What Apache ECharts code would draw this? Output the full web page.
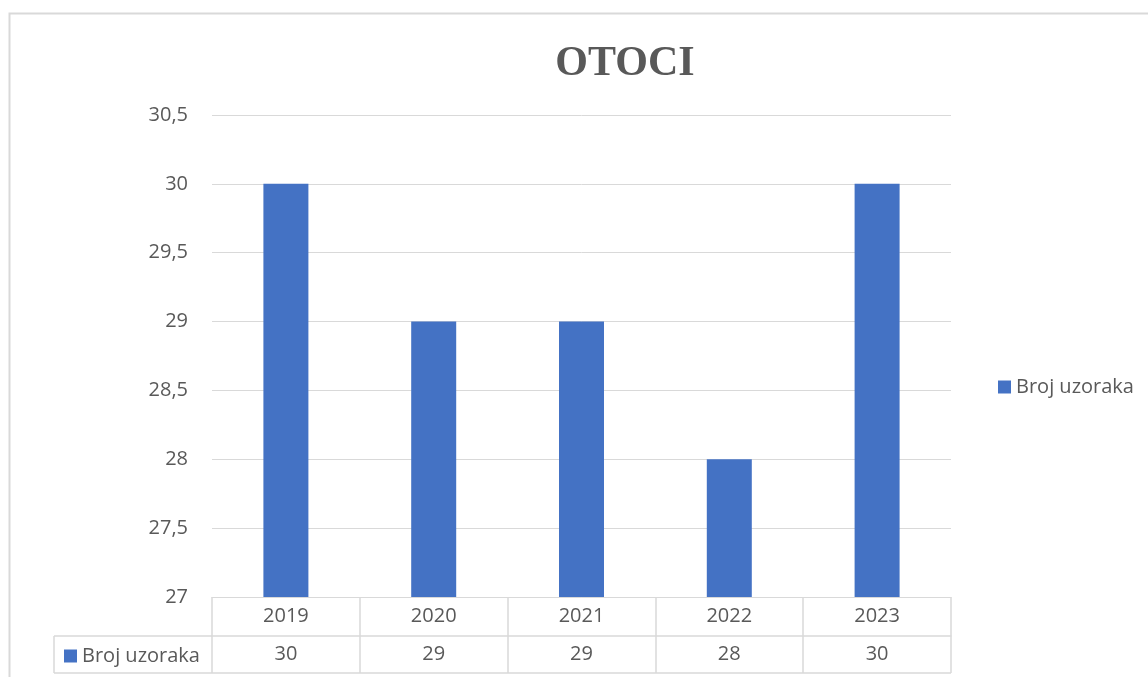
<!DOCTYPE html>
<html><head><meta charset="utf-8">
<script src="https://cdn.jsdelivr.net/npm/echarts@6/dist/echarts.min.js"></script>
<style>html,body{margin:0;padding:0;background:#fff}#c{width:1148px;height:677px}</style>
</head><body><div id="c"></div>
<script>
const categories = ['2019', '2020', '2021', '2022', '2023'];
const seriesName = 'Broj uzoraka';
const values = [30, 29, 29, 28, 30];
const yMin = 27, yMax = 30.5, yStep = 0.5;

const FONT = '"Open Sans", "Noto Sans", sans-serif';
const FS = 20;
const TXT = '#595959';
const LINE = '#d9d9d9';
const BLUE = '#4472C4';

const chart = echarts.init(document.getElementById('c'), null, {renderer: 'canvas'});
chart.setOption({
  animation: false,
  backgroundColor: '#fff',
  title: {
    text: 'OTOCI', left: 620, top: 38, textAlign: 'center',
    textStyle: {fontFamily: '"Liberation Serif", "Times New Roman", serif', fontWeight: 'bold', fontSize: 42, color: TXT}
  },
  legend: [{
    data: [seriesName], orient: 'vertical', left: 993, top: 372,
    itemWidth: 13, itemHeight: 13, itemGap: 6, icon: 'rect',
    textStyle: {fontFamily: FONT, fontSize: FS, color: TXT}
  }, {
    data: [seriesName], orient: 'vertical', left: 59, top: 641,
    itemWidth: 13, itemHeight: 13, itemGap: 6, icon: 'rect', selectedMode: false,
    textStyle: {fontFamily: FONT, fontSize: FS, color: TXT}
  }],
  grid: {left: 212, right: 197, top: 115, bottom: 80, containLabel: false},
  xAxis: [{
    type: 'category', data: categories, position: 'bottom',
    axisLine: {show: true, lineStyle: {color: LINE, width: 1}},
    axisTick: {show: true, alignWithLabel: false, length: 76, lineStyle: {color: LINE, width: 1.5}},
    axisLabel: {fontFamily: FONT, fontSize: FS, color: TXT, margin: 9}
  }, {
    type: 'category', data: values.map(String), position: 'bottom', offset: 39,
    axisLine: {show: true, lineStyle: {color: LINE, width: 1.5}},
    axisTick: {show: false},
    axisLabel: {fontFamily: FONT, fontSize: FS, color: TXT, margin: 8}
  }],
  yAxis: {
    type: 'value', min: yMin, max: yMax, interval: yStep,
    axisLine: {show: false}, axisTick: {show: false},
    splitLine: {lineStyle: {color: LINE, width: 1}},
    axisLabel: {fontFamily: FONT, fontSize: FS, color: TXT, margin: 24,
      formatter: v => String(v).replace('.', ',')}
  },
  series: [{
    name: seriesName, type: 'bar', data: values, barWidth: 45,
    itemStyle: {color: BLUE}, xAxisIndex: 0
  }],
  graphic: [
    {type: 'rect', shape: {x: 9.5, y: 13.5, width: 1200, height: 700}, style: {fill: 'none', stroke: LINE, lineWidth: 2}, silent: true},
    {type: 'line', shape: {x1: 54, y1: 636, x2: 212, y2: 636}, style: {stroke: LINE, lineWidth: 1.5}, silent: true},
    {type: 'line', shape: {x1: 54, y1: 673, x2: 951, y2: 673}, style: {stroke: LINE, lineWidth: 1.5}, silent: true},
    {type: 'line', shape: {x1: 54, y1: 636, x2: 54, y2: 673}, style: {stroke: LINE, lineWidth: 1.5}, silent: true}
  ]
});
</script></body></html>
